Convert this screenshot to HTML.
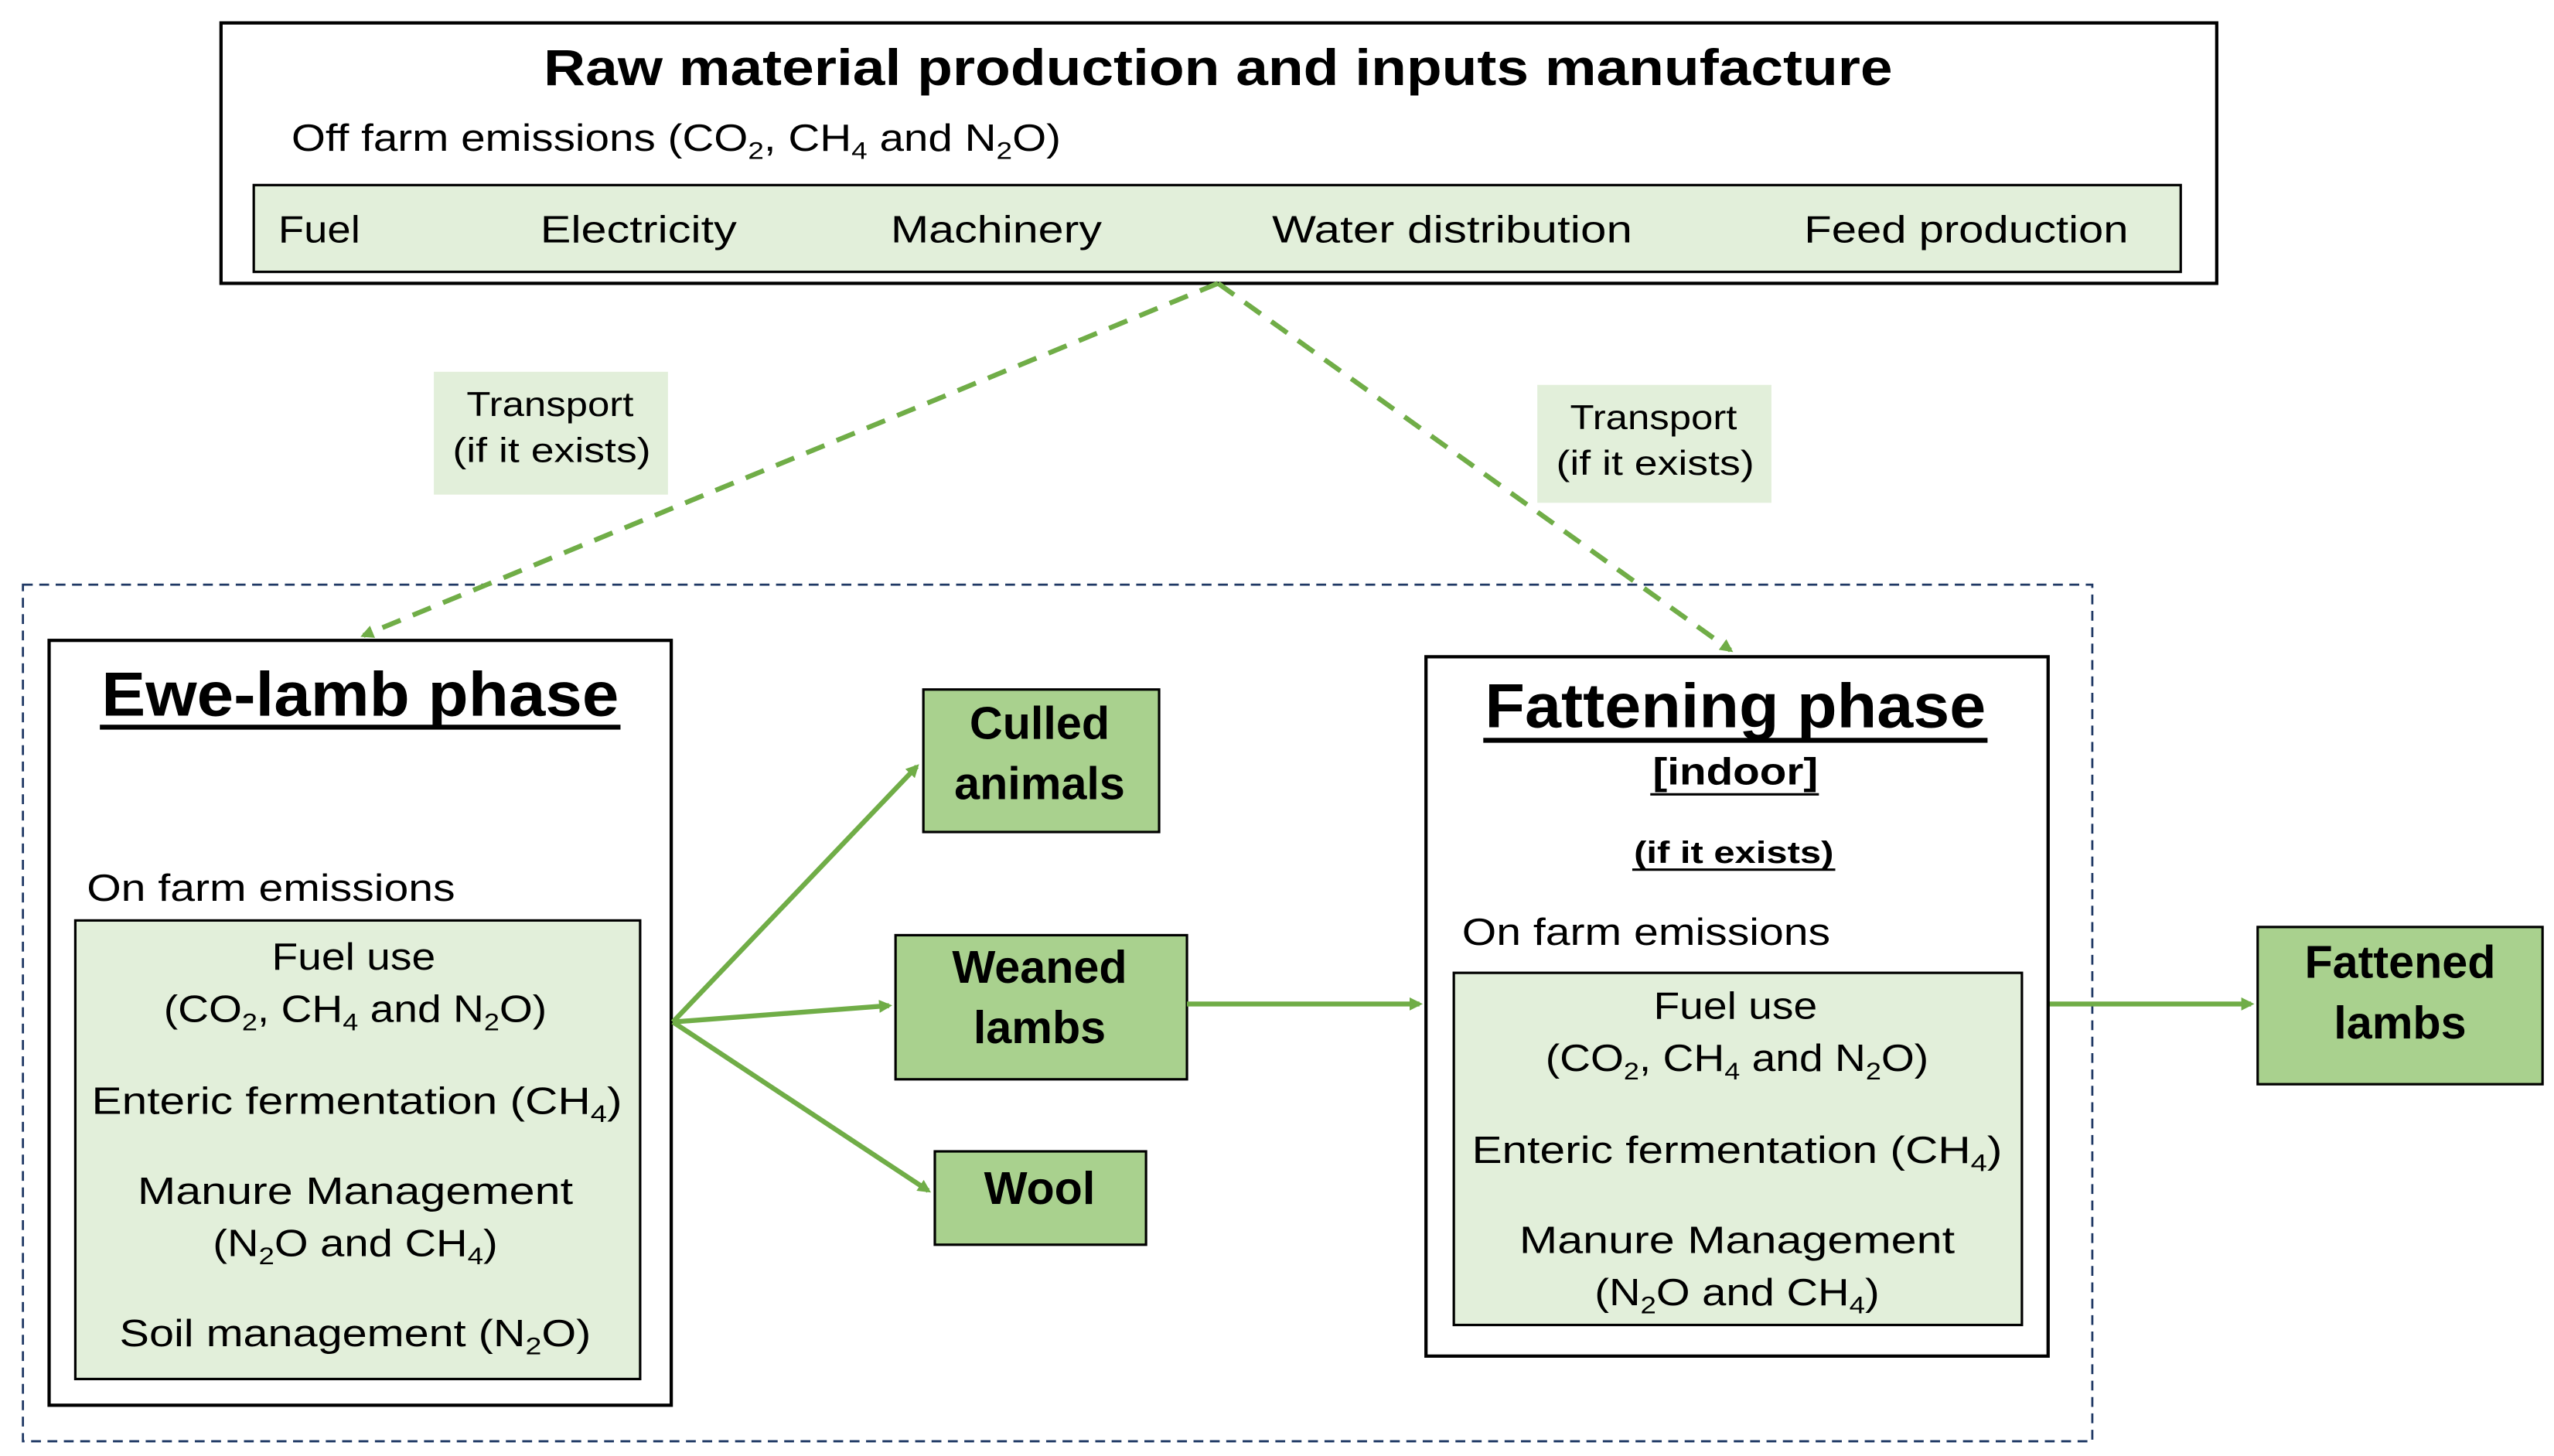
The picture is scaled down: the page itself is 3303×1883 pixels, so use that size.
<!DOCTYPE html>
<html><head><meta charset="utf-8"><style>html,body{margin:0;padding:0;background:#fff}svg{display:block}text{font-family:"Liberation Sans",sans-serif;fill:#000}</style></head>
<body>
<svg width="3303" height="1883" viewBox="0 0 1560 889" preserveAspectRatio="none" xmlns="http://www.w3.org/2000/svg">
<defs>
<marker id="ah" markerWidth="8" markerHeight="8" refX="6" refY="4" orient="auto" markerUnits="userSpaceOnUse"><path d="M0,0 L8,4 L0,8 z" fill="#70ad47"/></marker>
</defs>
<rect width="1560" height="889" fill="#fff"/>
<rect x="135" y="14" width="1219" height="159" fill="#fff" stroke="#000" stroke-width="2"/>
<text x="744" y="52" text-anchor="middle" font-size="31" font-weight="bold" textLength="824" lengthAdjust="spacingAndGlyphs">Raw material production and inputs manufacture</text>
<text x="178" y="92" font-size="23" textLength="470" lengthAdjust="spacingAndGlyphs">Off farm emissions (CO<tspan font-size="15" dy="5">2</tspan><tspan dy="-5">, CH</tspan><tspan font-size="15" dy="5">4</tspan><tspan dy="-5"> and N</tspan><tspan font-size="15" dy="5">2</tspan><tspan dy="-5">O)</tspan></text>
<rect x="155" y="113" width="1177" height="53" fill="#e2efda" stroke="#000" stroke-width="1.5"/>
<g font-size="23">
<text x="170" y="148" textLength="50" lengthAdjust="spacingAndGlyphs">Fuel</text>
<text x="330" y="148" textLength="120" lengthAdjust="spacingAndGlyphs">Electricity</text>
<text x="544" y="148" textLength="129" lengthAdjust="spacingAndGlyphs">Machinery</text>
<text x="777" y="148" textLength="220" lengthAdjust="spacingAndGlyphs">Water distribution</text>
<text x="1102" y="148" textLength="198" lengthAdjust="spacingAndGlyphs">Feed production</text>
</g>
<rect x="14" y="357" width="1264" height="523" fill="none" stroke="#1f3864" stroke-width="1.3" stroke-dasharray="6,4"/>
<rect x="265" y="227" width="143" height="75" fill="#e2efda"/>
<text x="336" y="254" text-anchor="middle" font-size="21" textLength="102" lengthAdjust="spacingAndGlyphs">Transport</text>
<text x="337" y="282" text-anchor="middle" font-size="21" textLength="121" lengthAdjust="spacingAndGlyphs">(if it exists)</text>
<rect x="939" y="235" width="143" height="72" fill="#e2efda"/>
<text x="1010" y="262" text-anchor="middle" font-size="21" textLength="102" lengthAdjust="spacingAndGlyphs">Transport</text>
<text x="1011" y="290" text-anchor="middle" font-size="21" textLength="121" lengthAdjust="spacingAndGlyphs">(if it exists)</text>
<line x1="744" y1="173" x2="222" y2="388" stroke="#70ad47" stroke-width="3" stroke-dasharray="12,8" marker-end="url(#ah)"/>
<line x1="744" y1="173" x2="1057" y2="397" stroke="#70ad47" stroke-width="3" stroke-dasharray="12,8" marker-end="url(#ah)"/>
<rect x="30" y="391" width="380" height="467" fill="#fff" stroke="#000" stroke-width="2"/>
<text x="220" y="437" text-anchor="middle" font-size="38" font-weight="bold" textLength="316" lengthAdjust="spacingAndGlyphs">Ewe-lamb phase</text>
<line x1="61" y1="444" x2="379" y2="444" stroke="#000" stroke-width="3"/>
<text x="53" y="550" font-size="23" textLength="225" lengthAdjust="spacingAndGlyphs">On farm emissions</text>
<rect x="46" y="562" width="345" height="280" fill="#e2efda" stroke="#000" stroke-width="1.5"/>
<g font-size="23" text-anchor="middle">
<text x="216" y="592" textLength="100" lengthAdjust="spacingAndGlyphs">Fuel use</text>
<text x="217" y="624" textLength="234" lengthAdjust="spacingAndGlyphs">(CO<tspan font-size="15" dy="5">2</tspan><tspan dy="-5">, CH</tspan><tspan font-size="15" dy="5">4</tspan><tspan dy="-5"> and N</tspan><tspan font-size="15" dy="5">2</tspan><tspan dy="-5">O)</tspan></text>
<text x="218" y="680" textLength="324" lengthAdjust="spacingAndGlyphs">Enteric fermentation (CH<tspan font-size="15" dy="5">4</tspan><tspan dy="-5">)</tspan></text>
<text x="217" y="735" textLength="266" lengthAdjust="spacingAndGlyphs">Manure Management</text>
<text x="217" y="767" textLength="174" lengthAdjust="spacingAndGlyphs">(N<tspan font-size="15" dy="5">2</tspan><tspan dy="-5">O and CH</tspan><tspan font-size="15" dy="5">4</tspan><tspan dy="-5">)</tspan></text>
<text x="217" y="822" textLength="288" lengthAdjust="spacingAndGlyphs">Soil management (N<tspan font-size="15" dy="5">2</tspan><tspan dy="-5">O)</tspan></text>
</g>
<rect x="564" y="421" width="144" height="87" fill="#a9d18e" stroke="#000" stroke-width="1.5"/>
<text x="635" y="451" text-anchor="middle" font-size="28" font-weight="bold">Culled</text>
<text x="635" y="488" text-anchor="middle" font-size="28" font-weight="bold">animals</text>
<rect x="547" y="571" width="178" height="88" fill="#a9d18e" stroke="#000" stroke-width="1.5"/>
<text x="635" y="600" text-anchor="middle" font-size="28" font-weight="bold">Weaned</text>
<text x="635" y="637" text-anchor="middle" font-size="28" font-weight="bold">lambs</text>
<rect x="571" y="703" width="129" height="57" fill="#a9d18e" stroke="#000" stroke-width="1.5"/>
<text x="635" y="735" text-anchor="middle" font-size="28" font-weight="bold">Wool</text>
<g stroke="#70ad47" stroke-width="3" fill="none">
<line x1="411" y1="624" x2="560" y2="468" marker-end="url(#ah)"/>
<line x1="411" y1="624" x2="543" y2="614" marker-end="url(#ah)"/>
<line x1="411" y1="624" x2="567" y2="727" marker-end="url(#ah)"/>
<line x1="725" y1="613" x2="867" y2="613" marker-end="url(#ah)"/>
<line x1="1251" y1="613" x2="1375" y2="613" marker-end="url(#ah)"/>
</g>
<rect x="871" y="401" width="380" height="427" fill="#fff" stroke="#000" stroke-width="2"/>
<text x="1060" y="444" text-anchor="middle" font-size="38" font-weight="bold" textLength="306" lengthAdjust="spacingAndGlyphs">Fattening phase</text>
<line x1="906" y1="452" x2="1214" y2="452" stroke="#000" stroke-width="3"/>
<text x="1060" y="479" text-anchor="middle" font-size="23" font-weight="bold" textLength="101" lengthAdjust="spacingAndGlyphs">[indoor]</text>
<line x1="1008" y1="485" x2="1111" y2="485" stroke="#000" stroke-width="1.5"/>
<text x="1059" y="527" text-anchor="middle" font-size="19" font-weight="bold" textLength="122" lengthAdjust="spacingAndGlyphs">(if it exists)</text>
<line x1="997" y1="531" x2="1121" y2="531" stroke="#000" stroke-width="1.5"/>
<text x="893" y="577" font-size="23" textLength="225" lengthAdjust="spacingAndGlyphs">On farm emissions</text>
<rect x="888" y="594" width="347" height="215" fill="#e2efda" stroke="#000" stroke-width="1.5"/>
<g font-size="23" text-anchor="middle">
<text x="1060" y="622" textLength="100" lengthAdjust="spacingAndGlyphs">Fuel use</text>
<text x="1061" y="654" textLength="234" lengthAdjust="spacingAndGlyphs">(CO<tspan font-size="15" dy="5">2</tspan><tspan dy="-5">, CH</tspan><tspan font-size="15" dy="5">4</tspan><tspan dy="-5"> and N</tspan><tspan font-size="15" dy="5">2</tspan><tspan dy="-5">O)</tspan></text>
<text x="1061" y="710" textLength="324" lengthAdjust="spacingAndGlyphs">Enteric fermentation (CH<tspan font-size="15" dy="5">4</tspan><tspan dy="-5">)</tspan></text>
<text x="1061" y="765" textLength="266" lengthAdjust="spacingAndGlyphs">Manure Management</text>
<text x="1061" y="797" textLength="174" lengthAdjust="spacingAndGlyphs">(N<tspan font-size="15" dy="5">2</tspan><tspan dy="-5">O and CH</tspan><tspan font-size="15" dy="5">4</tspan><tspan dy="-5">)</tspan></text>
</g>
<rect x="1379" y="566" width="174" height="96" fill="#a9d18e" stroke="#000" stroke-width="1.5"/>
<text x="1466" y="597" text-anchor="middle" font-size="28" font-weight="bold">Fattened</text>
<text x="1466" y="634" text-anchor="middle" font-size="28" font-weight="bold">lambs</text>
</svg>
</body></html>
